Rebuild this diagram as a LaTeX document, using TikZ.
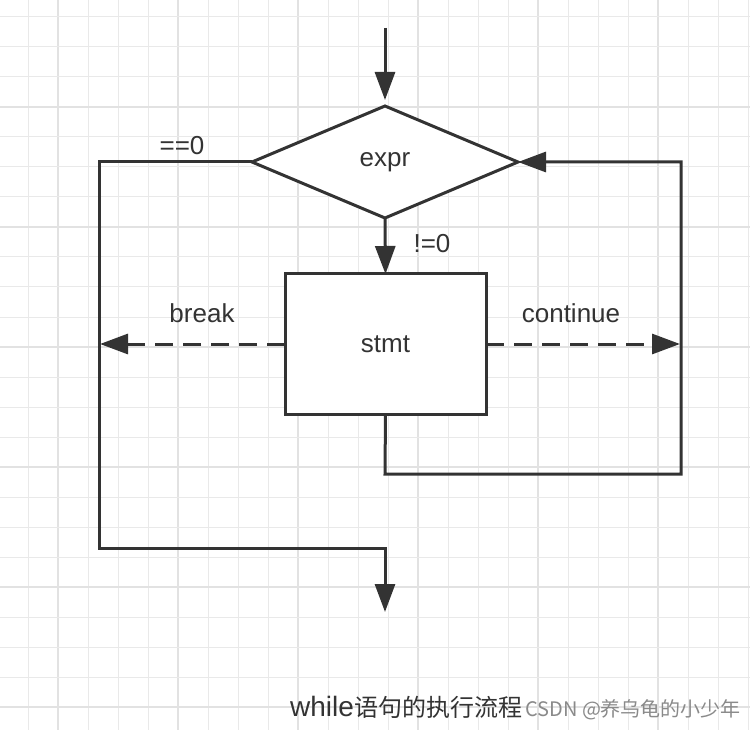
\documentclass[tikz,border=0pt]{standalone}
\usepackage{fontspec}
\setmainfont{Liberation Sans}
\newfontfamily\cjk{Noto Sans CJK SC}
\usetikzlibrary{arrows.meta,shapes.geometric}
\definecolor{ink}{HTML}{333333}
\definecolor{gridminor}{HTML}{E9E9E9}
\definecolor{gridmajor}{HTML}{E2E2E2}
\definecolor{wmark}{HTML}{8A8A8A}
\tikzset{
  conn/.style={draw=ink, line width=3pt},
  arr/.style={conn, -{Triangle[length=28pt,width=20pt]}},
  dasharr/.style={arr, dash pattern=on 18pt off 10pt},
  lbl/.style={text=ink, font=\fontsize{26}{30}\selectfont, inner sep=0pt},
  decision/.style={diamond, draw=ink, line width=3pt, fill=white, minimum width=266pt, minimum height=112pt, inner sep=0pt, outer sep=0pt, lbl},
  process/.style={rectangle, draw=ink, line width=3pt, fill=white, minimum width=201pt, minimum height=140pt, inner sep=0pt, outer sep=0pt, lbl}
}
\begin{document}
\begin{tikzpicture}[x=1pt,y=-1pt]
\useasboundingbox (0,0) rectangle (750,730);
\fill[white] (0,0) rectangle (750,730);
% grid
\foreach \k in {0,...,24} {
  \pgfmathtruncatemacro{\xx}{28+30*\k}
  \pgfmathtruncatemacro{\mm}{mod(\k+3,4)}
  \ifnum\mm=0
    \draw[gridmajor, line width=1.5pt] (\xx,0) -- (\xx,730);
  \else
    \draw[gridminor, line width=1pt] (\xx,0) -- (\xx,730);
  \fi
}
\foreach \k in {0,...,23} {
  \pgfmathtruncatemacro{\yy}{17+30*\k}
  \pgfmathtruncatemacro{\mm}{mod(\k+1,4)}
  \ifnum\mm=0
    \draw[gridmajor, line width=1.5pt] (0,\yy) -- (750,\yy);
  \else
    \draw[gridminor, line width=1pt] (0,\yy) -- (750,\yy);
  \fi
}
% nodes
\coordinate (start) at (385,28);
\node[decision] (expr) at (385,162) {expr};
\node[process] (stmt) at (385.5,344) {stmt};
\coordinate (cL) at (99,162);
\coordinate (cLB) at (99,548);
\coordinate (bend) at (385,548);
\coordinate (endp) at (385,612);
\coordinate (lb) at (385,474);
\coordinate (rb) at (681,474);
\coordinate (rt) at (681,162);
\coordinate (brk) at (100,344);
\coordinate (cont) at (680,344);
% connectors
\draw[arr, shorten >=6pt] (start) -- (expr.north);
\draw[arr] (expr.south) -- (stmt.north);
\draw[arr] (expr.west) -- (cL) -- (cLB) -- (bend) -- (endp);
\draw[arr] (stmt.south) -- (lb) -- (rb) -- (rt) -- (expr.east);
\draw[dasharr] (stmt.west) -- (brk);
\draw[dasharr] (stmt.east) -- (cont);
% labels
\node[lbl] (eq0) at (182,146) {==0};
\node[lbl] (neq0) at (432,244) {!=0};
\node[lbl] (brklbl) at (202,313) {break};
\node[lbl] (contlbl) at (571,313) {continue};
\node[anchor=base west, inner sep=0pt, text=ink] (title) at (290,716)
  {{\fontsize{28}{30}\selectfont while}{\cjk\fontsize{24}{30}\selectfont 语句的执行流程}};
\node[anchor=base west, inner sep=0pt, text=wmark] (wm) at (525,716)
  {\cjk\fontsize{20}{24}\selectfont CSDN @养乌龟的小少年};
\end{tikzpicture}
\end{document}
